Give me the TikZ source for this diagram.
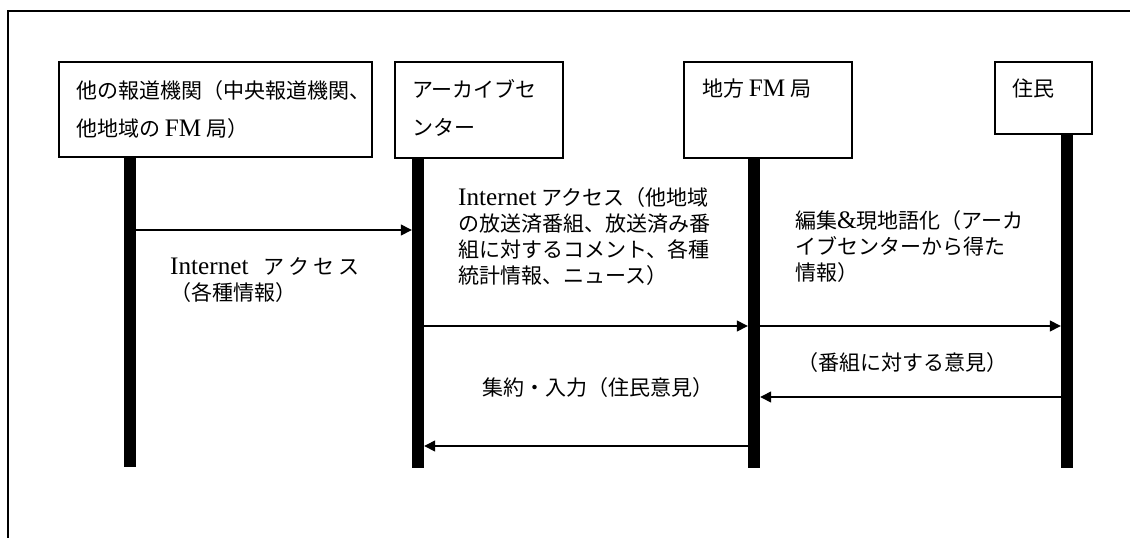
\documentclass[tikz,border=0pt]{standalone}
\usepackage{fontspec}
\newfontfamily\jp{Noto Sans CJK JP}
\newfontfamily\lat[Scale=1.2]{Liberation Serif}
\usetikzlibrary{arrows.meta}
\tikzset{
  box/.style={draw, line width=1.5pt, fill=white, inner sep=0pt, anchor=north west},
  lifeline/.style={fill=black, inner sep=0pt, minimum width=12pt, anchor=north},
  msg/.style={line width=1.4pt, -{Triangle[length=11pt,width=11pt]}},
  boxtext/.style={font=\jp\fontsize{21}{38}\selectfont, inner sep=0pt, anchor=north west, align=left},
  lbl/.style={font=\jp\fontsize{21}{26}\selectfont, inner sep=0pt, anchor=north west, align=left}
}
\begin{document}
\begin{tikzpicture}[x=1pt,y=-1pt]
\useasboundingbox[fill=white] (0,0) rectangle (1130,538);
% outer frame (left and top edges)
\draw[line width=2pt] (8,540) |- (1132,11);
% participant boxes
\node[box, minimum width=313pt, minimum height=95pt] (b1) at (58,61) {};
\node[box, minimum width=168pt, minimum height=96pt] (b2) at (394,61) {};
\node[box, minimum width=168pt, minimum height=96pt] (b3) at (683,61) {};
\node[box, minimum width=97pt, minimum height=72pt] (b4) at (994,61) {};
% box texts
\node[boxtext] (t1) at (76,80) {他の報道機関（中央報道機関、\\他地域の {\lat FM} 局）};
\node[boxtext] (t2) at (412,79) {アーカイブセ\\ンター};
\node[boxtext] (t3) at (702,79) {地方 {\lat FM} 局};
\node[boxtext] (t4) at (1012,79) {住民};
% lifelines
\node[lifeline, minimum height=311pt] (L1) at (130,156) {};
\node[lifeline, minimum height=311pt] (L2) at (418,157) {};
\node[lifeline, minimum height=311pt] (L3) at (754,157) {};
\node[lifeline, minimum height=335pt] (L4) at (1067,133) {};
% message levels
\coordinate (m1) at (0,230);
\coordinate (m2) at (0,326);
\coordinate (m4) at (0,397);
\coordinate (m5) at (0,446);
\draw[msg] (L1.east |- m1) -- (L2.west |- m1);
\draw[msg] (L2.east |- m2) -- (L3.west |- m2);
\draw[msg] (L3.east |- m2) -- (L4.west |- m2);
\draw[msg] (L4.west |- m4) -- (L3.east |- m4);
\draw[msg] (L3.west |- m5) -- (L2.east |- m5);
% message labels
\node[lbl] (la) at (170,257.5) {{\lat Internet}\hspace{15pt}ア\kern4pt ク\kern4pt セ\kern4pt ス\\（各種情報）};
\node[lbl] (lb) at (458,187.5) {{\lat Internet} アクセス（他地域\\の放送済番組、放送済み番\\組に対するコメント、各種\\統計情報、ニュース）};
\node[lbl] (lc) at (795,210.5) {編集{\lat\&}現地語化（アーカ\\イブセンターから得た\\情報）};
\node[lbl] (ld) at (797,352.5) {（番組に対する意見）};
\node[lbl] (le) at (482,377.5) {集約・入力（住民意見）};
\end{tikzpicture}
\end{document}
